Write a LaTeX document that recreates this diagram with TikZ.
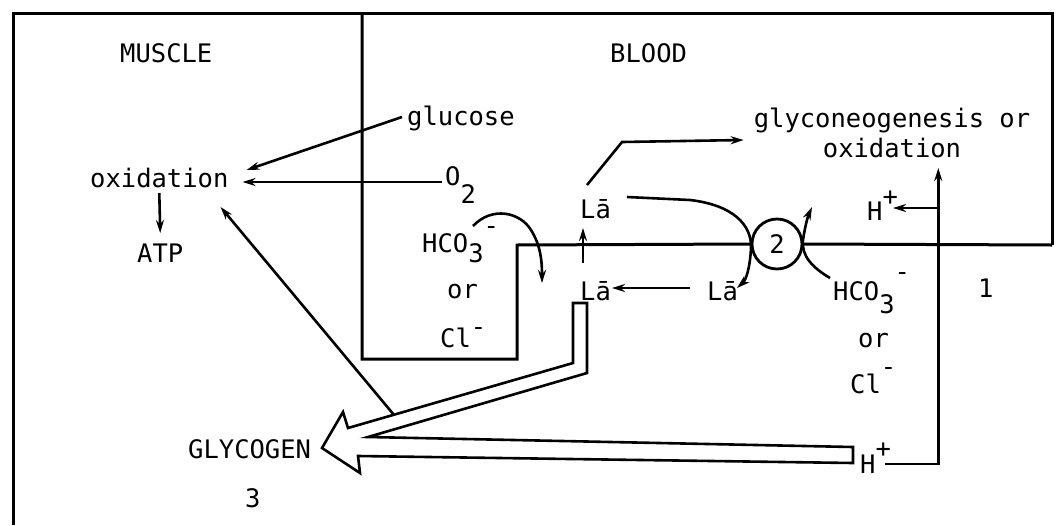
\documentclass[tikz,border=0pt]{standalone}
\usepackage{fontspec}
\setmainfont{DejaVu Sans Mono}
\usetikzlibrary{arrows.meta,calc}
\newcommand{\lowch}[2][-10pt]{\raisebox{#1}{#2}}
\newcommand{\highch}[2][18pt]{\raisebox{#1}{#2}}

\begin{document}
\begin{tikzpicture}[x=1pt,y=-1pt,
  lbl/.style={font=\fontsize{25.5}{30}\selectfont, inner sep=0pt, anchor=base west},
  wall/.style={line width=3pt, line join=miter},
  flow/.style={line width=2.6pt, -{Stealth[length=13pt,width=8pt]}},
  bigflow/.style={line width=2.6pt, line join=miter}]
\useasboundingbox (0,0) rectangle (1056,525);
% labels
\node[lbl] (muscle) at (120,62) {MUSCLE};
\node[lbl] (blood) at (610,62) {BLOOD};
\node[lbl] (glucose) at (407,125) {glucose};
\node[lbl] (oxid) at (90,187) {oxidation};
\node[lbl] (otwo) at (445,185) {O\lowch[-18pt]{2}};
\node[lbl] (atp) at (137,262) {ATP};
\node[lbl, anchor=base] (glyA) at (892,127) {glyconeogenesis or};
\node[lbl, anchor=base] (glyB) at (892,157) {oxidation};
\node[lbl] (hcoL) at (422,252) {HCO\lowch{3}\highch{-}};
\node[lbl] (orL) at (447,298) {or};
\node[lbl] (clL) at (440,347) {Cl\highch[12pt]{-}};
\node[lbl] (laup) at (580,218) {Lā};
\node[lbl] (lalo) at (580,300) {Lā};
\node[lbl] (lamid) at (707,300) {Lā};
\node[circle, draw, line width=2.8pt, minimum size=50pt, inner sep=0pt,
  font=\fontsize{25.5}{30}\selectfont] (circ) at (777,244) {2};
\node[lbl] (hcoR) at (833,300) {HCO\lowch[-13pt]{3}\highch[20pt]{-}};
\node[lbl] (orR) at (858,347) {or};
\node[lbl] (clR) at (850,393) {Cl\highch{-}};
\node[lbl] (one) at (978,297) {1};
\node[lbl] (hup) at (867,220) {H\highch[15pt]{+}};
\node[lbl] (hlo) at (860,473) {H\highch[16pt]{+}};
\node[lbl] (glyc) at (188,458) {GLYCOGEN};
\node[lbl] (three) at (245,507) {3};
% frame and membranes
\draw[wall] (13,525) -- (13,13) -- (1052,13) -- (1052,245);
\draw[wall] (362,13) -- (362,359) -- (517,359) -- (517,245) -- (circ.west);
\draw[wall] (circ.east) -- (1052,245);
% open arrow into glycogen
\draw[bigflow] (322,448) -- (343,412) -- (348,428) -- (573,363) -- (573,303) -- (587,303)
  -- (587,373) -- (368,437) -- (853,447) -- (853,463) -- (358,456) -- (360,473) -- cycle;
% arrows
\draw[flow] ($(glucose.base west)+(-5,-8)$) -- ($(oxid.base east)+(18,-17)$);
\draw[flow] ($(otwo.base west)+(-3,-3)$) -- ($(oxid.base east)+(14,-5)$);
\draw[flow] ($(oxid.base)+(0,6)$) -- ($(atp.base)+(0,-29)$);
\draw[flow] ($(glyc.base east)+(82,-44)$) -- ($(oxid.base east)+(-8,20)$);
\draw[flow] ($(hcoL.base west)+(51,-26)$) .. controls (492,206) and (520,212) .. (531,230)
  .. controls (541,246) and (542,262) .. ($(hcoL.base west)+(120,31)$);
\draw[flow] ($(lalo.base west)+(3,-37)$) -- ($(laup.base west)+(3,10)$);
\draw[flow] ($(lamid.base west)+(-17,-12)$) -- ($(lalo.base west)+(32,-12)$);
\draw[flow] ($(laup.base west)+(7,-33)$) -- (622,142) -- ($(glyA.base west)+(-10,13)$);
\draw[flow] ($(laup.base west)+(47,-21)$) -- (690,200) .. controls (733,205) and (752,225) .. (751,248)
  .. controls (750,268) and (746,280) .. ($(lamid.base west)+(30,-12)$);
\draw[flow] ($(hcoR.base west)+(-3,-22)$) .. controls (813,268) and (801,256) .. (803,240)
  .. controls (805,226) and (808,216) .. ($(circ.center)+(35,-37)$);
\draw[flow] ($(hlo.base west)+(25,-9)$) -| ($(glyB.base east)+(-23,11)$);
\draw[flow] ($(hup.base west)+(71,-12)$) -- ($(hup.base west)+(26,-12)$);
\end{tikzpicture}
\end{document}
